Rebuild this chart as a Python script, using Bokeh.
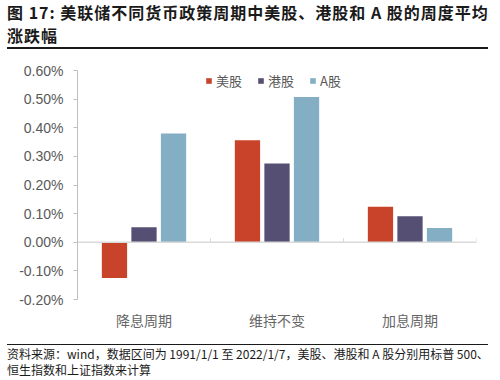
from bokeh.plotting import figure
from bokeh.models import (Div, Legend, LegendItem, FixedTicker, PrintfTickFormatter,
                          LinearAxis, Range1d, CustomJSTickFormatter, Span, ColumnDataSource)
from bokeh.layouts import column
from bokeh.embed import file_html
from bokeh.resources import INLINE

# ---- data ----
categories = ["降息周期", "维持不变", "加息周期"]
series_names = ["美股", "港股", "A股"]
us_vals = [-0.125, 0.356, 0.124]
hk_vals = [0.052, 0.275, 0.091]
a_vals = [0.380, 0.507, 0.050]
y_ticks = [-0.2, -0.1, 0.0, 0.1, 0.2, 0.3, 0.4, 0.5, 0.6]

colors = ["#C8432A", "#544F73", "#84AEC4"]
series = [us_vals, hk_vals, a_vals]
offsets = [-0.222, 0.0, 0.222]
bar_w = 0.19

CJK = "Noto Sans CJK SC"
W = 492

title_div = Div(
    text=("<div style=\"font-family:'Noto Sans CJK SC';font-weight:bold;font-size:16px;"
          "letter-spacing:1px;line-height:23px;color:#1a1a1a;white-space:nowrap;"
          "margin-left:7px;width:481px;padding-top:1px;"
          "border-bottom:2px solid #1a1a1a;\">"
          "图 17: 美联储不同货币政策周期中美股、港股和 A 股的周度平均<br>涨跌幅</div>"),
    width=W, height=49, margin=(0, 0, 0, 0))

p = figure(width=W, height=295, x_range=Range1d(0, len(categories)),
           y_range=Range1d(y_ticks[0], y_ticks[-1]),
           output_backend="svg", toolbar_location=None, x_axis_type=None,
           min_border_left=77, min_border_right=16, min_border_top=21, min_border_bottom=45)
p.margin = (0, 0, 0, 0)
p.outline_line_color = None
p.xgrid.visible = False
p.ygrid.visible = False
p.background_fill_color = "white"
p.border_fill_color = "white"

# y axis
ya = p.yaxis[0]
ya.ticker = FixedTicker(ticks=y_ticks)
ya.formatter = PrintfTickFormatter(format="%.2f%%")
ya.axis_line_color = "#BFBFBF"
ya.major_tick_line_color = "#BFBFBF"
ya.major_tick_in = 0
ya.major_tick_out = 4
ya.minor_tick_line_color = None
ya.major_label_text_font = "Liberation Sans"
ya.major_label_text_font_size = "14px"
ya.major_label_text_color = "#595959"
ya.major_label_standoff = 10

# category axis at the bottom
xa = LinearAxis(ticker=FixedTicker(ticks=[i + 0.5 for i in range(len(categories))]),
                formatter=CustomJSTickFormatter(args=dict(cats=categories),
                                                code="return cats[Math.floor(tick)] || '';"))
xa.axis_line_color = None
xa.major_tick_line_color = None
xa.minor_tick_line_color = None
xa.major_tick_out = 0
xa.major_tick_in = 0
xa.major_label_standoff = 10
xa.major_label_text_font = CJK
xa.major_label_text_font_size = "14px"
xa.major_label_text_color = "#666666"
p.add_layout(xa, "below")

# zero line with boundary ticks
p.add_layout(Span(location=0, dimension="width", line_color="#D9D9D9", line_width=1.5))
bounds = list(range(len(categories) + 1))
p.segment(x0=bounds, y0=[0] * len(bounds), x1=bounds, y1=[0.015] * len(bounds),
          line_color="#D9D9D9", line_width=1)

items = []
for name, vals, off, col in zip(series_names, series, offsets, colors):
    src = ColumnDataSource(dict(x=[i + 0.5 + off for i in range(len(categories))], top=vals))
    r = p.vbar(x="x", top="top", bottom=0, width=bar_w, source=src,
               fill_color=col, line_color=None)
    items.append(LegendItem(label=name, renderers=[r]))

legend = Legend(items=items, orientation="horizontal", location=(128, 209),
                glyph_width=7, glyph_height=7, label_text_font=CJK,
                label_text_font_size="13px", label_text_color="#595959",
                border_line_color=None, background_fill_alpha=0,
                spacing=15, padding=0, margin=0, label_standoff=4, label_height=19)
p.add_layout(legend)

source_div = Div(
    text=("<div style=\"font-family:'Noto Sans CJK SC';font-size:12px;line-height:16px;"
          "color:#1a1a1a;white-space:nowrap;margin-left:7px;width:481px;padding-top:1px;"
          "border-top:1.5px solid #1a1a1a;\">"
          "资料来源：wind，数据区间为 1991/1/1 至 2022/1/7，美股、港股和 A 股分别用标普 500、<br>"
          "恒生指数和上证指数来计算</div>"),
    width=W, height=35, margin=(0, 0, 0, 0))

layout = column(title_div, p, source_div, spacing=0)
layout.margin = (0, 0, 0, 0)
open("out.html", "w").write(file_html(layout, INLINE))
